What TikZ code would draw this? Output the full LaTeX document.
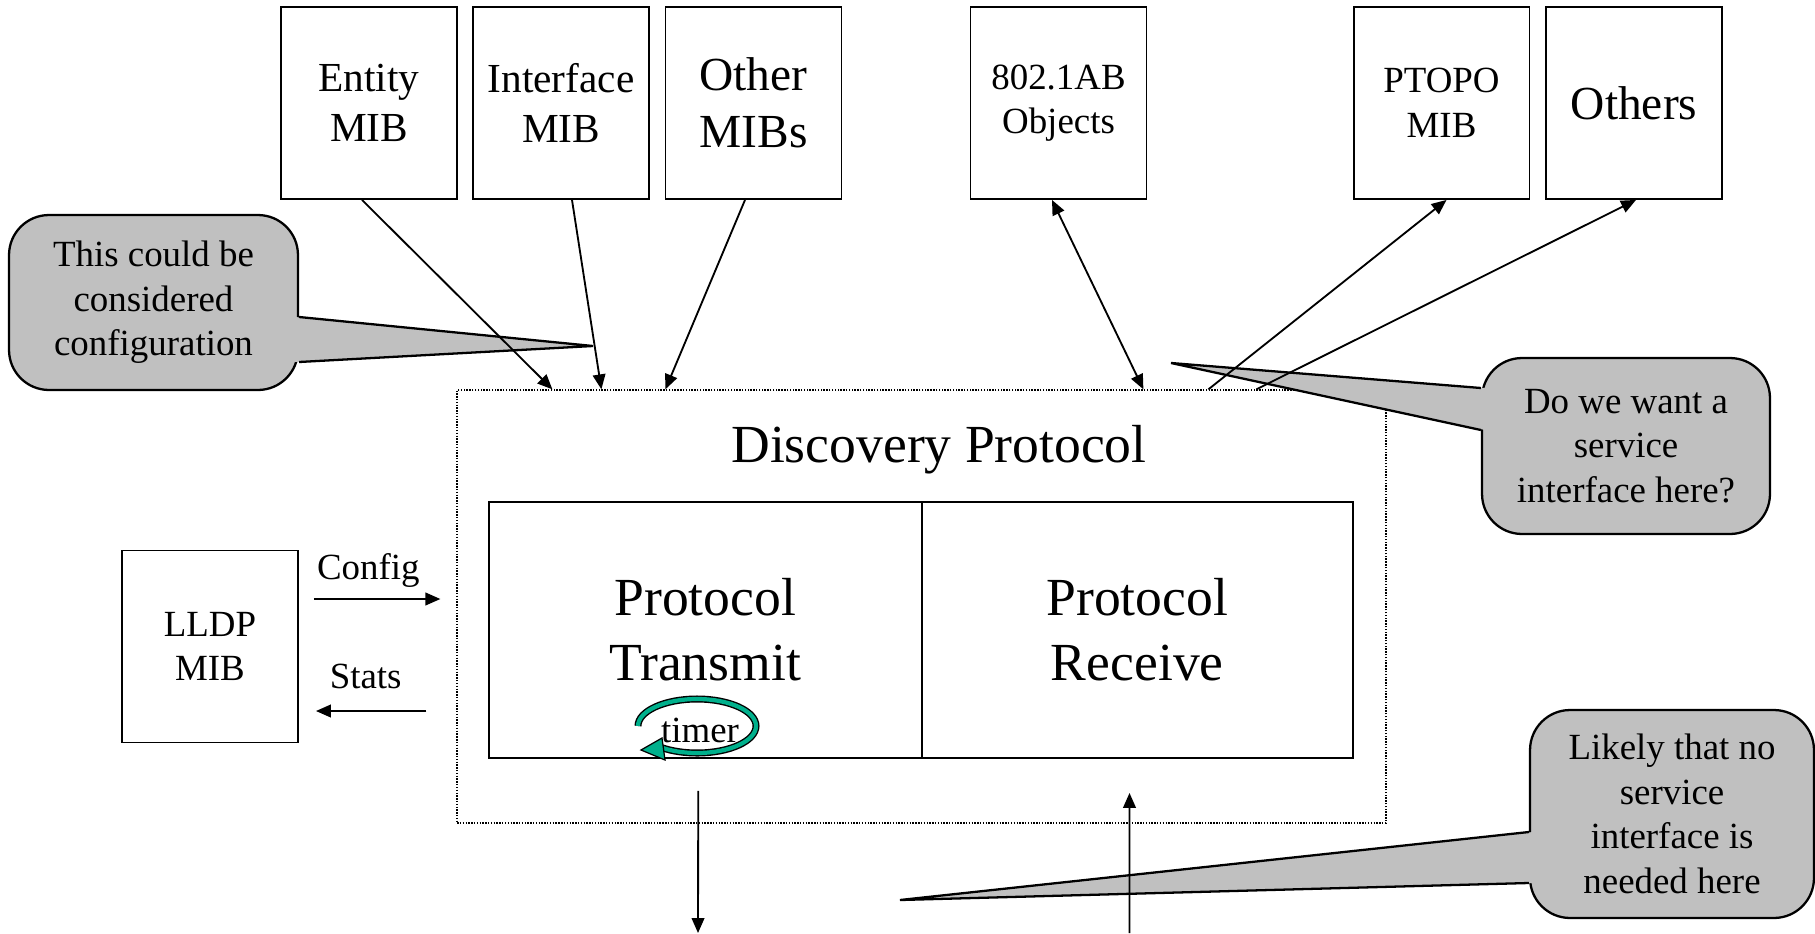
\documentclass[tikz,border=0pt]{standalone}
\usepackage{fontspec}
\setmainfont{Liberation Serif}
\usetikzlibrary{arrows.meta}
\definecolor{calloutgray}{RGB}{192,192,192}
\definecolor{timergreen}{RGB}{0,176,140}
\begin{document}
\begin{tikzpicture}[x=0.02cm,y=-0.02cm,
    txtsmall/.style={font=\fontsize{21}{25.4}\selectfont},
    txtmib/.style={font=\fontsize{23.5}{28.5}\selectfont},
    txtbig/.style={font=\fontsize{27}{32.4}\selectfont},
    txtproto/.style={font=\fontsize{30.5}{37}\selectfont},
    mibbox/.style={draw,line width=1.1pt,minimum width=3.52cm,minimum height=3.84cm,align=center,inner sep=0pt},
    protobox/.style={draw,line width=1.1pt,minimum height=5.12cm,align=center,inner sep=0pt,txtproto},
    arr/.style={line width=1.05pt,-{Triangle[length=8.5pt,width=7.2pt]}},
    dblarr/.style={line width=1.05pt,{Triangle[length=8.5pt,width=7.2pt]}-{Triangle[length=8.5pt,width=7.2pt]}},
    callout/.style={draw,line width=1.3pt,fill=calloutgray,rounded corners=0.8cm,align=center,inner sep=0pt,txtsmall},
    wedge/.style={line width=1.3pt}]
    \useasboundingbox (0,0) rectangle (1815,933);
    \node [mibbox,txtmib] (ent) at (369,103) {Entity\\MIB};
    \node [mibbox,txtmib] (ifc) at (561,103) {Interface\\MIB};
    \node [mibbox,txtbig] (oth) at (753.5,103) {Other\\MIBs};
    \node [mibbox,txtsmall] (ab) at (1058.5,103) {802.1AB\\Objects};
    \node [mibbox,txtsmall] (ptopo) at (1441.5,103) {PTOPO\\MIB};
    \node [mibbox,txtbig] (othr) at (1634,103) {Others};
    \node [mibbox,txtsmall] (lldp) at (210,646.5) {LLDP\\MIB};
    \node [draw,line width=0.8pt,dash pattern=on 0.8pt off 0.8pt,minimum width=18.58cm,minimum height=8.66cm,inner sep=0pt] (disc) at (921.5,606.5) {};
    \node [txtproto] (title) at (939,450) {Discovery Protocol};
    \node [protobox,minimum width=8.65cm] (tx) at (705.25,630) {Protocol\\Transmit};
    \node [protobox,minimum width=8.63cm] (rx) at (1137.25,630) {Protocol\\Receive};
    \draw [line width=4pt] (638,726) arc [start angle=180,end angle=486,x radius=59,y radius=27];
    \draw [line width=2.4pt,timergreen] (638,726) arc [start angle=180,end angle=486,x radius=59,y radius=27];
    \filldraw [fill=timergreen,line width=0.7pt] (641,750) -- (662,738) -- (665,760) -- cycle;
    \node [txtsmall,inner sep=0pt] (tmr) at (700,730) {timer};
    \node [callout,minimum width=5.78cm,minimum height=3.5cm] (c1) at (153.5,302.5) {This could be\\considered\\configuration};
    \coordinate (c1tip) at (593,346);
    \fill [calloutgray] ([shift={(-4,14.5)}]c1.east) -- (c1tip) -- ([shift={(-4,59.5)}]c1.east) -- cycle;
    \draw [wedge] ([shift={(0,14.5)}]c1.east) -- (c1tip) -- ([shift={(0,59.5)}]c1.east);
    \node [callout,minimum width=5.76cm,minimum height=3.52cm] (c2) at (1626,446) {Do we want a\\service\\interface here?};
    \coordinate (c2tip) at (1171,363);
    \fill [calloutgray] ([shift={(4,-58)}]c2.west) -- (c2tip) -- ([shift={(4,-16)}]c2.west) -- cycle;
    \draw [wedge] ([shift={(0,-58)}]c2.west) -- (c2tip) -- ([shift={(0,-16)}]c2.west);
    \node [callout,minimum width=5.68cm,minimum height=4.16cm] (c3) at (1672,814) {Likely that no\\service\\interface is\\needed here};
    \coordinate (c3tip) at (900,900);
    \fill [calloutgray] ([shift={(4,18)}]c3.west) -- (c3tip) -- ([shift={(4,69)}]c3.west) -- cycle;
    \draw [wedge] ([shift={(0,18)}]c3.west) -- (c3tip) -- ([shift={(0,69)}]c3.west);
    \draw [arr] ([shift={(-7,0)}]ent.south) -- ([shift={(96,0)}]disc.north west);
    \draw [arr] ([shift={(11,0)}]ifc.south) -- ([shift={(145,0)}]disc.north west);
    \draw [arr] ([shift={(-8.5,0)}]oth.south) -- ([shift={(209,0)}]disc.north west);
    \draw [dblarr] ([shift={(-6.5,0)}]ab.south) -- ([shift={(687,0)}]disc.north west);
    \draw [arr] ([shift={(752,0)}]disc.north west) -- ([shift={(5,0)}]ptopo.south);
    \draw [arr] ([shift={(800,0)}]disc.north west) -- ([shift={(2,0)}]othr.south);
    \draw [arr] ([shift={(15,-47.5)}]lldp.east) -- ([shift={(-16,-7.5)}]disc.west) node [pos=0.43,above=0.15cm,inner sep=2pt,txtsmall] (cfg) {Config};
    \draw [arr] ([shift={(-30,104.5)}]disc.west) -- ([shift={(17,64.5)}]lldp.east) node [pos=0.55,above=0.35cm,inner sep=2pt,txtsmall] (sts) {Stats};
    \coordinate (txout) at (698,933);
    \coordinate (rxin) at (1129.5,933);
    \draw [arr] ([shift={(-7,32)}]tx.south) -- (txout);
    \draw [arr] (rxin) -- ([shift={(-7.75,34)}]rx.south);
\end{tikzpicture}
\end{document}
